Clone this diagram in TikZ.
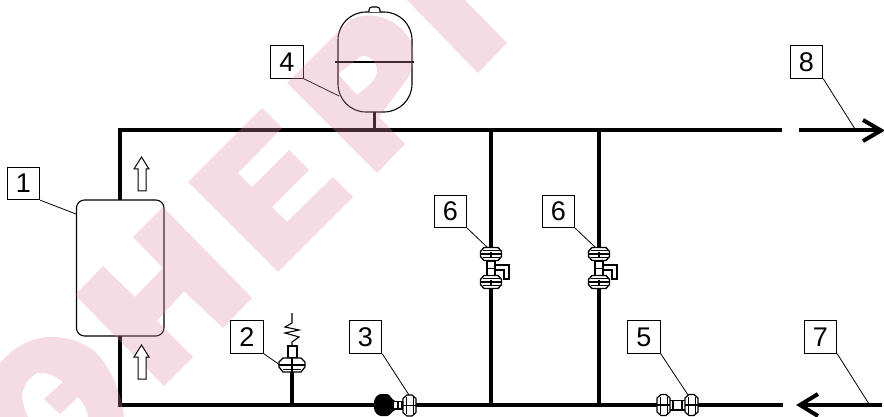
\documentclass[tikz,border=0pt]{standalone}
\usepackage{fontspec}
\setmainfont{Liberation Sans}
\definecolor{wm}{rgb}{0.867,0.533,0.633}
\tikzset{
  x=1pt,y=-1pt,
  pipe/.style={line width=4pt,line cap=butt,line join=miter,black},
  thinline/.style={line width=1.1pt,black},
  leader/.style={line width=0.8pt,black},
  tag/.style={draw,line width=0.9pt,minimum size=32.5pt,inner sep=0pt,font=\fontsize{27}{27}\selectfont},
  flowarrow/.style={line width=1pt,fill=white,line join=miter},
  nut/.pic={
    \draw[line width=1.4pt,fill=white,line join=round] (-10.5,-2.5)--(-7,-6.5)--(7,-6.5)--(10.5,-2.5)--(10.5,2.5)--(7,6.5)--(-7,6.5)--(-10.5,2.5)--cycle;
    \draw[line width=1.4pt] (-10.5,0)--(10.5,0) (0,-2.5)--(0,2.5);
    \draw[line width=0.5pt] (-8.5,-3.5)--(8.5,-3.5) (-8.5,3.5)--(8.5,3.5);
  },
  hnut/.pic={
    \draw[line width=1.2pt,fill=white,line join=round] (-2.5,-10.5)--(-6.5,-7)--(-6.5,7)--(-2.5,10.5)--(2.5,10.5)--(6.5,7)--(6.5,-7)--(2.5,-10.5)--cycle;
    \draw[line width=1.1pt] (-6.5,0)--(6.5,0);
    \draw[line width=0.6pt] (-3.5,-8.5)--(-3.5,8.5) (3.5,-8.5)--(3.5,8.5);
  },
  vvalve/.pic={
    \draw[line width=1.5pt,fill=white] (-4,0)rectangle(4,16);
    \draw[line width=1pt] (-4,7)--(4,7);
    \pic at (0,-7) {nut};
    \pic at (0,21) {nut};
  }
}
\begin{document}
\begin{tikzpicture}
\useasboundingbox (0,0) rectangle (884,417);

% junction coordinates
\coordinate (tl) at (120,130);
\coordinate (bl) at (120,405);
\coordinate (tr) at (782,130);
\coordinate (br) at (783,405);
\coordinate (ts1) at (491,130);
\coordinate (bs1) at (491,405);
\coordinate (ts2) at (599,130);
\coordinate (bs2) at (599,405);
\coordinate (ts3) at (374.5,130);
\coordinate (tankb) at (374.5,112);
\coordinate (bv2) at (292,405);
\coordinate (tv2) at (292,365);
\coordinate (bt) at (120,200);
\coordinate (bb) at (120,336);
\coordinate (a8s) at (799,130);
\coordinate (a8e) at (880,130);
\coordinate (a7s) at (882,405);
\coordinate (a7e) at (801,405);

% pipes
\draw[pipe] (bt)--(tl)--(tr);
\draw[pipe] (bb)--(bl)--(br);
\draw[pipe] (ts1)--(bs1);
\draw[pipe] (ts2)--(bs2);
\draw[pipe,line width=3.5pt] (tankb)--(ts3);
\draw[pipe,line width=3.5pt] (tv2)--(bv2);

% outlet arrows
\draw[pipe] (a8s)--(a8e);
\draw[line width=4pt,line join=miter] (863,120)--(881,130.5)--(863,141);
\draw[pipe] (a7s)--(a7e);
\draw[line width=4pt,line join=miter] (818,394)--(800,405)--(818,416);

% boiler
\node[draw,line width=1.1pt,rounded corners=8pt,minimum width=87.5pt,minimum height=136pt,inner sep=0pt] (boiler) at (120.2,268) {};

% tank
\node[draw,line width=1.1pt,rounded corners=28pt,minimum width=74pt,minimum height=100pt,inner sep=0pt] (tank) at (375,62) {};
\draw[line width=1.2pt] (335,62)--(414,62);
\draw[thinline,fill=white,rounded corners=3pt] (369,12)--(369,7)--(380,7)--(380,12);

% valve 6 (two)
\foreach \vx in {491,599}{
  \pic at (\vx,261) {vvalve};
  \draw[line width=1.1pt,fill=white] (\vx+4,265)--(\vx+18,265)--(\vx+18,279)--(\vx+13,279)--(\vx+13,270)--(\vx+4,270)--cycle;
}

% valve 2
\draw[line width=1.1pt] (292,313)--(292,323)--(285,327)--(299,330)--(285,333)--(299,337)--(292,342)--(292,346);
\draw[line width=1.1pt,fill=white] (288,346) rectangle (297,358);
\draw[line width=1.3pt,fill=white,line join=round] (279,362)--(283,358)--(301,358)--(305,362)--(305,367)--(301,372)--(283,372)--(279,367)--cycle;
\draw[line width=1.3pt] (279,365)--(305,365) (292,358)--(292,372);
\draw[line width=0.5pt] (283,369.5)--(301,369.5);

% valve 3
\fill (374,402) .. controls (374,398) and (378,394) .. (381,394)--(387,394) .. controls (390,394) and (391,399) .. (395,401)--(395,410) .. controls (391,412) and (390,416) .. (387,416)--(381,416) .. controls (378,416) and (374,412) .. (374,408)--cycle;
\draw[line width=1.5pt,fill=white] (393,401.5) rectangle (402,409);
\draw[line width=1.3pt] (398,401.5)--(398,409);
\pic at (409.5,405.5) {hnut};

% valve 5
\draw[line width=1.5pt,fill=white] (669,400.5) rectangle (686,410);
\draw[line width=1.3pt] (673,400.5)--(673,410) (682,400.5)--(682,410);
\pic at (663.5,405) {hnut};
\pic at (691.5,405) {hnut};

% labels
\node[tag] (n1) at (23.5,183.5) {1};
\node[tag] (n2) at (247,337) {2};
\node[tag] (n3) at (365.5,337) {3};
\node[tag] (n4) at (287,62) {4};
\node[tag] (n5) at (644,337) {5};
\node[tag] (n6a) at (450.5,211.5) {6};
\node[tag] (n6b) at (558.5,211.5) {6};
\node[tag] (n7) at (820.5,337) {7};
\node[tag] (n8) at (806.5,62) {8};

\coordinate (e1) at (76,214);
\coordinate (e2) at (280,365);
\coordinate (e3) at (409,395);
\coordinate (e4) at (339,96);
\coordinate (e5) at (688,395);
\coordinate (e6a) at (487,247);
\coordinate (e6b) at (595,247);
\coordinate (e7) at (869,404);
\coordinate (e8) at (855,129);
\draw[leader] (n1.south east)--(e1);
\draw[leader] (n2.south east)--(e2);
\draw[leader] (n3.south east)--(e3);
\draw[leader] (n4.south east)--(e4);
\draw[leader] (n5.south east)--(e5);
\draw[leader] (n6a.south east)--(e6a);
\draw[leader] (n6b.south east)--(e6b);
\draw[leader] (n7.south east)--(e7);
\draw[leader] (n8.south east)--(e8);

% watermark
\begin{scope}[fill=wm,opacity=0.3]
\clip (0,0) rectangle (884,417);
% N
\fill (75,295)--(103,266)--(135,297)--(163,268)--(133,237)--(163,207)--(252,298)--(223,328)--(184,291)--(157,321)--(193,357)--(164,386)--cycle;
% E
\fill (188,182)--(262,108)--(282,128)--(238,173)--(252,187)--(289,150)--(309,170)--(272,207)--(287,222)--(333,177)--(353,197)--(278,272)--cycle;
% R
\fill[even odd rule] (287,83)--(350,20) .. controls (375,8) and (400,22) .. (410,40) .. controls (417,55) and (413,72) .. (405,82)--(379,117)--(405,144)--(377,173)--cycle
  (338,74)--(360,57) .. controls (368,53) and (377,62) .. (377,70) .. controls (377,78) and (372,82) .. (368,86)--(357,95)--cycle;
% G
\fill (407,0)--(478,73)--(507,43)--(465,0)--cycle;
% E reversed
\fill (0,363) .. controls (15,345) and (35,337) .. (50,337) .. controls (72,337) and (90,345) .. (100,357) .. controls (112,372) and (122,395) .. (124,417)--(88,417) .. controls (87,408) and (83,402) .. (78,397)--(60,414)--(44,399)--(63,382) .. controls (55,375) and (45,372) .. (37,373) .. controls (28,378) and (22,388) .. (22,397) .. controls (23,405) and (25,411) .. (28,417)--(0,417)--cycle;
\end{scope}

% flow arrows
\draw[flowarrow] (138,191)--(138,169)--(134,169)--(141.5,157)--(149,169)--(146,169)--(146,191)--cycle;
\draw[flowarrow] (138,379)--(138,357)--(134,357)--(141.5,345)--(149,357)--(146,357)--(146,379)--cycle;
\end{tikzpicture}
\end{document}
